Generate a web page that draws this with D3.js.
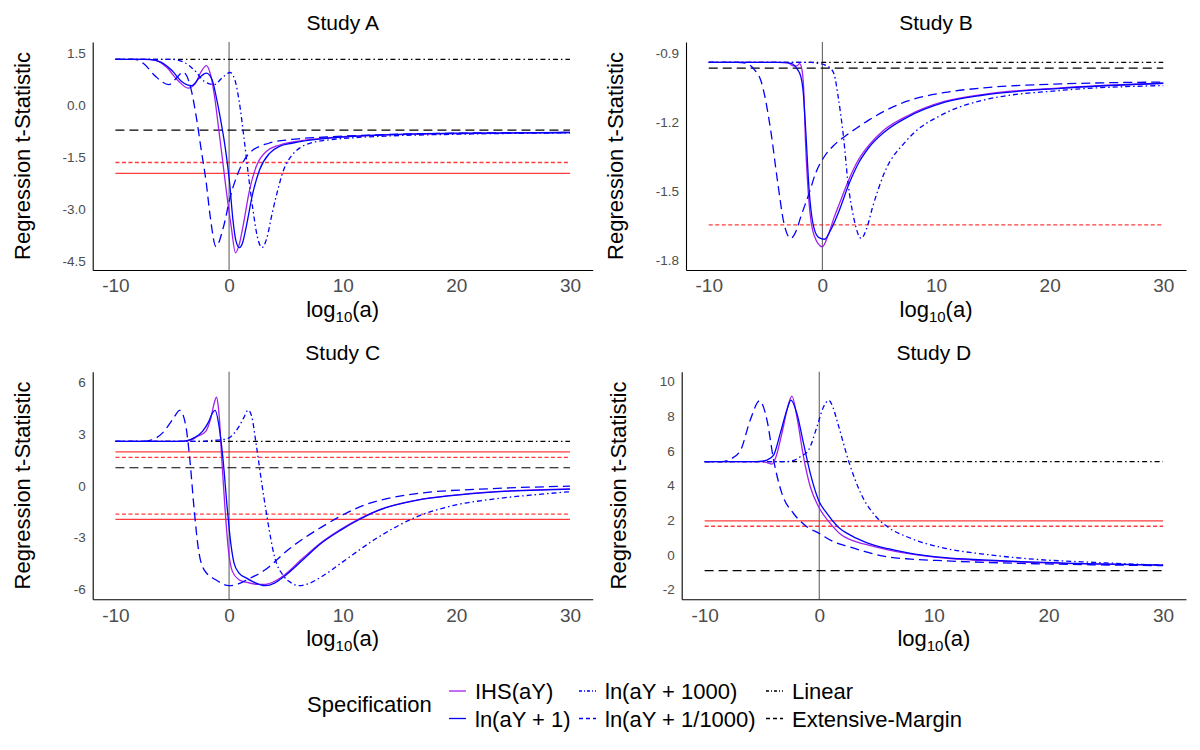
<!DOCTYPE html>
<html>
<head>
<meta charset="utf-8">
<script src="https://cdn.jsdelivr.net/npm/d3@7"></script>
<style>
  body { margin: 0; background: #fff; }
  svg text { font-family: "Liberation Sans", Arial, Helvetica, sans-serif; }
</style>
</head>
<body>
<div id="chart"></div>
<script>
// ---- data ----
const studyNames = ['Study A', 'Study B', 'Study C', 'Study D'];

const xTicks = [-10, 0, 10, 20, 30];
const xTickLabels = ['-10', '0', '10', '20', '30'];
const lineSpan = [-10, 30];

const yTicksA = [1.5, 0, -1.5, -3, -4.5];
const yTickLabelsA = ['1.5', '0.0', '-1.5', '-3.0', '-4.5'];
const yTicksB = [-0.9, -1.2, -1.5, -1.8];
const yTickLabelsB = ['-0.9', '-1.2', '-1.5', '-1.8'];
const yTicksC = [6, 3, 0, -3, -6];
const yTickLabelsC = ['6', '3', '0', '-3', '-6'];
const yTicksD = [10, 8, 6, 4, 2, 0, -2];
const yTickLabelsD = ['10', '8', '6', '4', '2', '0', '-2'];

const yDomainA = [-4.745, 1.83];
const yDomainB = [-1.8405, -0.851];
const yDomainC = [-6.59, 6.61];
const yDomainD = [-2.57, 10.56];

// horizontal reference specifications
const linearT = [1.33, -0.939, 2.57, 5.37];
const extensiveT = [-0.71, -0.964, 1.04, -0.92];

// critical values drawn in red (|t| 1.96 solid, 1.645 dotted)
const criticalA = [-1.645, -1.96];
const criticalB = [-1.645];
const criticalC = [1.96, 1.645, -1.645, -1.96];
const criticalD = [1.96, 1.645];

// Study A curves [log10(a), t]
const ihsA = [[-10,1.33],[-7.5,1.33],[-6.5,1.3],[-5.5,1.1],[-4.5,0.72],[-3.6,0.5],[-3.0,0.62],[-2.5,0.95],[-2.0,1.15],[-1.6,0.85],[-1.25,0.2],[-0.98,-0.5],[-0.6,-1.5],[-0.25,-2.44],[0.19,-3.5],[0.57,-4.25],[0.9,-4.0],[1.22,-3.5],[1.8,-2.44],[2.39,-1.76],[3.27,-1.33],[4.44,-1.14],[5.5,-1.06],[8.5,-0.94],[13.6,-0.85],[20,-0.81],[30,-0.78]];
const log1A = [[-10,1.33],[-7,1.33],[-6,1.25],[-5,1.0],[-4.2,0.7],[-3.3,0.57],[-2.6,0.8],[-2.0,0.93],[-1.5,0.75],[-1.1,0.2],[-0.69,-0.51],[-0.3,-1.3],[0.04,-2.2],[0.34,-3.3],[0.6,-3.9],[0.9,-4.1],[1.2,-3.95],[1.51,-3.5],[2.09,-2.53],[2.68,-1.86],[3.56,-1.38],[4.44,-1.18],[5.52,-1.09],[8.56,-0.95],[13.6,-0.85],[20,-0.8],[30,-0.78]];
const log1000A = [[-10,1.33],[-5,1.33],[-4,1.25],[-3,1.0],[-2.2,0.7],[-1.3,0.6],[-0.6,0.8],[0.1,0.95],[0.5,0.75],[0.9,0.1],[1.3,-0.9],[1.7,-2.0],[2.1,-3.0],[2.5,-3.8],[2.9,-4.1],[3.3,-3.85],[3.8,-3.1],[4.2,-2.55],[4.8,-1.86],[5.5,-1.45],[6.2,-1.23],[7.2,-1.08],[8.6,-1.0],[11,-0.93],[14,-0.88],[20,-0.83],[30,-0.79]];
const logMilliA = [[-10,1.33],[-8.3,1.33],[-7.5,1.2],[-6.5,0.85],[-5.3,0.6],[-4.6,0.8],[-4.06,0.96],[-3.33,0.45],[-2.89,-0.32],[-2.45,-1.28],[-2.0,-2.25],[-1.66,-3.2],[-1.15,-4.07],[-0.49,-3.5],[0.11,-2.63],[0.79,-1.95],[1.8,-1.37],[3.49,-1.09],[5.5,-0.98],[8.56,-0.91],[13.6,-0.84],[20,-0.8],[30,-0.78]];

// Study B curves
const ihsB = [[-10,-0.939],[-4,-0.939],[-3,-0.942],[-2.55,-0.955],[-2.25,-0.955],[-2.0,-0.945],[-1.8,-0.97],[-1.65,-1.05],[-1.47,-1.3],[-1.17,-1.55],[-0.73,-1.69],[0,-1.74],[0.5,-1.69],[1.05,-1.61],[1.6,-1.54],[2.4,-1.44],[3.2,-1.36],[4.08,-1.3],[5.5,-1.23],[7.46,-1.172],[10.8,-1.108],[14.2,-1.078],[21,-1.05],[30,-1.03]];
const log1B = [[-10,-0.939],[-3.5,-0.939],[-2.7,-0.945],[-2.2,-0.97],[-1.9,-1.0],[-1.7,-1.06],[-1.47,-1.23],[-1.17,-1.49],[-0.73,-1.66],[-0.3,-1.7],[0.2,-1.707],[0.7,-1.67],[1.39,-1.594],[2.4,-1.46],[3.2,-1.375],[4.08,-1.31],[5.5,-1.24],[7.46,-1.178],[10.8,-1.112],[14.2,-1.081],[21,-1.052],[30,-1.03]];
const log1000B = [[-10,-0.939],[-1,-0.939],[-0.3,-0.945],[0.2,-0.95],[0.7,-0.965],[1.03,-0.99],[1.39,-1.088],[1.6,-1.16],[1.89,-1.276],[2.23,-1.45],[2.74,-1.609],[3.42,-1.703],[3.9,-1.66],[4.43,-1.566],[5.44,-1.421],[7.46,-1.276],[10.8,-1.16],[14.2,-1.103],[21,-1.061],[30,-1.04]];
const logMilliB = [[-10,-0.939],[-7.5,-0.939],[-6.6,-0.945],[-6,-0.97],[-5.4,-1.02],[-4.55,-1.233],[-3.96,-1.45],[-3.37,-1.64],[-2.79,-1.703],[-2.3,-1.67],[-1.9,-1.61],[-1.17,-1.508],[-0.59,-1.42],[0.15,-1.35],[1.0,-1.3],[2.0,-1.26],[3.0,-1.225],[4.08,-1.19],[5.5,-1.15],[7.46,-1.108],[10.8,-1.07],[14.2,-1.05],[21,-1.033],[30,-1.025]];

// Study C curves
const ihsC = [[-10,2.57],[-4.5,2.57],[-3.5,2.62],[-2.8,2.85],[-2.05,3.15],[-1.6,3.93],[-1.3,4.8],[-1.11,5.13],[-0.95,4.6],[-0.85,3.9],[-0.64,1.51],[-0.35,-1.39],[-0.06,-3.72],[0.29,-4.97],[0.88,-5.46],[1.5,-5.6],[2.5,-5.72],[3.2,-5.72],[4,-5.55],[4.84,-5.2],[6.5,-4.2],[8,-3.35],[9.83,-2.53],[13.2,-1.4],[16.5,-0.84],[19.8,-0.55],[23.1,-0.36],[30,-0.19]];
const log1C = [[-10,2.57],[-4.5,2.57],[-3.8,2.6],[-3,2.8],[-2.34,3.15],[-1.8,3.7],[-1.46,4.22],[-1.23,4.37],[-0.88,3.44],[-0.53,1.51],[-0.15,-1.39],[0.15,-3.33],[0.44,-4.49],[0.88,-5.07],[1.5,-5.35],[2.05,-5.55],[3.18,-5.8],[4,-5.65],[4.84,-5.27],[6.5,-4.3],[8,-3.4],[9.83,-2.58],[11.5,-1.95],[13.2,-1.42],[16.5,-0.85],[19.8,-0.56],[23.1,-0.37],[26.5,-0.27],[30,-0.2]];
const log1000C = [[-10,2.57],[-2.5,2.57],[-1.5,2.62],[-0.5,2.68],[0,2.77],[0.88,3.44],[1.3,3.95],[1.68,4.38],[2.0,4.0],[2.34,2.61],[2.84,0.31],[3.34,-1.81],[4.0,-4.12],[4.84,-5.27],[5.5,-5.65],[6.18,-5.8],[7,-5.68],[8.17,-5.27],[9.83,-4.5],[13.2,-2.96],[16.5,-1.81],[19.8,-1.14],[23.1,-0.79],[26.5,-0.55],[30,-0.35]];
const logMilliC = [[-10,2.57],[-7.5,2.57],[-6.8,2.65],[-5.85,3.06],[-4.97,3.83],[-4.33,4.37],[-3.8,3.44],[-3.45,1.51],[-3.07,-1.39],[-2.69,-3.72],[-2.19,-4.88],[-1.17,-5.46],[0,-5.8],[0.8,-5.7],[1.6,-5.45],[3.18,-4.88],[5.17,-3.73],[8.17,-2.39],[11.5,-1.23],[16.5,-0.46],[23.2,-0.17],[30,-0.03]];

// Study D curves
const ihsD = [[-10,5.37],[-5,5.37],[-4.5,5.3],[-4.13,5.23],[-3.8,5.6],[-3.26,7.0],[-2.67,8.73],[-2.38,9.15],[-1.95,7.96],[-1.37,5.65],[-0.78,3.92],[-0.06,2.77],[0.96,1.81],[1.83,1.2],[3,0.8],[4.3,0.55],[6,0.28],[7.64,0.08],[10.98,-0.2],[17.65,-0.42],[24.3,-0.54],[30,-0.6]];
const log1D = [[-10,5.37],[-6,5.37],[-5,5.4],[-4.56,5.46],[-3.98,5.75],[-3.4,7.0],[-2.82,8.35],[-2.47,8.92],[-1.95,8.15],[-1.37,6.42],[-0.78,4.69],[-0.06,3.15],[0.67,2.38],[1.62,1.62],[2.8,1.1],[4.3,0.66],[6,0.35],[7.64,0.12],[10.98,-0.17],[14.3,-0.3],[17.65,-0.4],[24.3,-0.53],[30,-0.6]];
const log1000D = [[-10,5.37],[-3,5.37],[-2.2,5.45],[-1.66,5.65],[-0.93,6.04],[-0.2,7.38],[0.38,8.54],[0.85,8.9],[1.2,8.5],[1.62,7.58],[2.63,5.27],[3.63,3.54],[4.96,2.19],[6.2,1.5],[7.64,1.04],[10.98,0.37],[14.3,0.04],[17.65,-0.2],[24.3,-0.45],[30,-0.6]];
const logMilliD = [[-10,5.37],[-8.5,5.37],[-7.8,5.5],[-6.9,5.98],[-6.02,7.77],[-5.2,8.88],[-4.56,7.77],[-3.98,5.46],[-3.26,3.54],[-2.24,2.38],[-1.08,1.62],[0,1.23],[1.25,0.75],[2.63,0.46],[4,0.18],[5.96,-0.12],[8,-0.25],[10.98,-0.35],[17.65,-0.5],[24,-0.58],[30,-0.63]];

const specNames = ['IHS(aY)', 'ln(aY + 1)', 'ln(aY + 1000)', 'ln(aY + 1/1000)', 'Linear', 'Extensive-Margin'];

// ---- styling ----
const DASHED = '9,5';
const DOTDASH = '5,3,1.5,3';
const specStyle = {
  'IHS(aY)': { color: '#a020f0', dash: null },
  'ln(aY + 1)': { color: '#0000ff', dash: null },
  'ln(aY + 1000)': { color: '#0000ff', dash: DOTDASH },
  'ln(aY + 1/1000)': { color: '#0000ff', dash: DASHED },
  'Linear': { color: '#000000', dash: DOTDASH },
  'Extensive-Margin': { color: '#000000', dash: DASHED }
};

const width = 1200;
const height = 750;

// panel frames (pixels)
const layout = [
  { left: 92.7, right: 592.7, top: 42, bottom: 270, titleX: 22 },
  { left: 686, right: 1186, top: 42, bottom: 270, titleX: 615 },
  { left: 92.7, right: 592.7, top: 371.7, bottom: 599.3, titleX: 22 },
  { left: 681.7, right: 1186, top: 371.7, bottom: 599.3, titleX: 618 }
];

const panels = [
  { yDomain: yDomainA, yTicks: yTicksA, yLabels: yTickLabelsA, critical: criticalA,
    curves: [ihsA, log1A, log1000A, logMilliA] },
  { yDomain: yDomainB, yTicks: yTicksB, yLabels: yTickLabelsB, critical: criticalB,
    curves: [ihsB, log1B, log1000B, logMilliB] },
  { yDomain: yDomainC, yTicks: yTicksC, yLabels: yTickLabelsC, critical: criticalC,
    curves: [ihsC, log1C, log1000C, logMilliC] },
  { yDomain: yDomainD, yTicks: yTicksD, yLabels: yTickLabelsD, critical: criticalD,
    curves: [ihsD, log1D, log1000D, logMilliD] }
];

const svg = d3.select('#chart')
  .append('svg')
  .attr('width', width)
  .attr('height', height);

function drawPanel(panel, box, i) {
  const x = d3.scaleLinear().domain([-12, 32]).range([box.left, box.right]);
  const y = d3.scaleLinear().domain(panel.yDomain).range([box.bottom, box.top]);
  const g = svg.append('g').attr('class', 'panel');

  const line = d3.line()
    .x(d => x(d[0]))
    .y(d => y(d[1]))
    .curve(d3.curveMonotoneX);

  // zero line on the x axis
  g.append('line')
    .attr('x1', x(0)).attr('x2', x(0))
    .attr('y1', box.top).attr('y2', box.bottom)
    .attr('stroke', '#555')
    .attr('stroke-width', 1);

  // critical values
  panel.critical.forEach(c => {
    g.append('path')
      .attr('d', line(lineSpan.map(v => [v, c])))
      .attr('fill', 'none')
      .attr('stroke', '#ff1a1a')
      .attr('stroke-opacity', 0.85)
      .attr('stroke-width', 1.3)
      .attr('stroke-dasharray', Math.abs(c) < 1.9 ? '4,2.5' : null);
  });

  // horizontal specifications
  [['Linear', linearT[i]], ['Extensive-Margin', extensiveT[i]]].forEach(([name, v]) => {
    g.append('path')
      .attr('d', line(lineSpan.map(s => [s, v])))
      .attr('fill', 'none')
      .attr('stroke', specStyle[name].color)
      .attr('stroke-width', 1.2)
      .attr('stroke-dasharray', specStyle[name].dash);
  });

  // transformed-outcome curves
  panel.curves.forEach((pts, k) => {
    const st = specStyle[specNames[k]];
    g.append('path')
      .attr('d', line(pts))
      .attr('fill', 'none')
      .attr('stroke', st.color)
      .attr('stroke-width', 1.3)
      .attr('stroke-dasharray', st.dash);
  });

  // axes
  const xAxis = d3.axisBottom(x)
    .tickValues(xTicks)
    .tickFormat((d, j) => xTickLabels[j])
    .tickSize(0)
    .tickPadding(9);
  g.append('g')
    .attr('transform', `translate(0,${box.bottom})`)
    .call(xAxis)
    .call(a => a.select('.domain').attr('stroke', '#000').attr('stroke-width', 1.1))
    .call(a => a.selectAll('text')
      .attr('fill', '#4d4d4d')
      .style('font-size', '19px'));

  const yAxis = d3.axisLeft(y)
    .tickValues(panel.yTicks)
    .tickFormat((d, j) => panel.yLabels[j])
    .tickSize(0)
    .tickPadding(7);
  g.append('g')
    .attr('transform', `translate(${box.left},0)`)
    .call(yAxis)
    .call(a => a.select('.domain').attr('stroke', '#000').attr('stroke-width', 1.1))
    .call(a => a.selectAll('text')
      .attr('fill', '#4d4d4d')
      .style('font-size', '13.5px'));

  // titles
  const cx = (box.left + box.right) / 2;
  g.append('text')
    .attr('x', cx)
    .attr('y', box.top - 12)
    .attr('text-anchor', 'middle')
    .style('font-size', '21px')
    .attr('fill', '#000')
    .text(studyNames[i]);

  const xt = g.append('text')
    .attr('x', cx)
    .attr('y', box.bottom + 46.5)
    .attr('text-anchor', 'middle')
    .style('font-size', '22px')
    .attr('fill', '#000');
  xt.append('tspan').text('log');
  xt.append('tspan').attr('dy', 5).style('font-size', '15px').text('10');
  xt.append('tspan').attr('dy', -5).text('(a)');

  g.append('text')
    .attr('transform', `translate(${box.titleX + 8},${(box.top + box.bottom) / 2}) rotate(-90)`)
    .attr('text-anchor', 'middle')
    .style('font-size', '22px')
    .attr('fill', '#000')
    .text('Regression t-Statistic');
}

panels.forEach((p, i) => drawPanel(p, layout[i], i));

// ---- legend ----
const legend = svg.append('g').attr('class', 'legend');
legend.append('text')
  .attr('x', 307)
  .attr('y', 712)
  .style('font-size', '22px')
  .attr('fill', '#000')
  .text('Specification');

const colX = [475, 605, 792];
const rowY = [691, 718.5];
specNames.forEach((name, k) => {
  const col = Math.floor(k / 2);
  const row = k % 2;
  const lx = colX[col];
  const ly = rowY[row];
  const st = specStyle[name];
  legend.append('line')
    .attr('x1', lx - 26).attr('x2', lx - 9)
    .attr('y1', ly).attr('y2', ly)
    .attr('stroke', st.color)
    .attr('stroke-width', 1.3)
    .attr('stroke-dasharray', st.dash ? (st.dash === DASHED ? '4,3' : '3,2,1,2') : null);
  legend.append('text')
    .attr('x', lx)
    .attr('y', ly + 8)
    .style('font-size', '22px')
    .attr('fill', '#000')
    .text(name);
});
</script>
</body>
</html>
